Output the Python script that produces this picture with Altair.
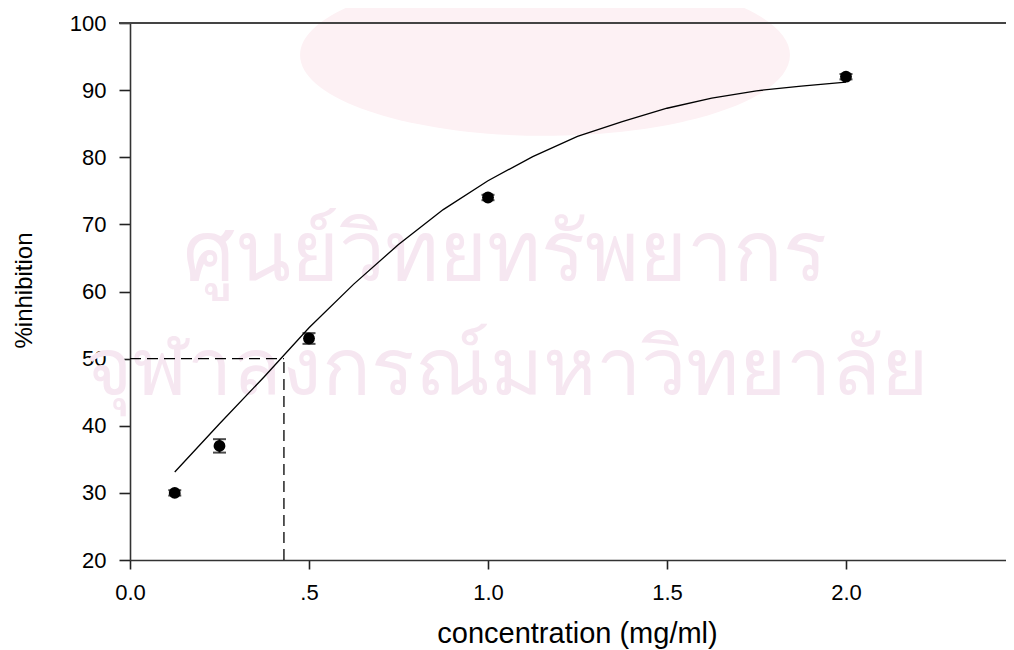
import altair as alt
import pandas as pd

# measured points (mean, error)
pts_x = [0.125, 0.25, 0.5, 1.0, 2.0]
pts_y = [30.0, 37.0, 53.0, 74.0, 92.0]
pts_err = [0.4, 1.0, 0.8, 0.4, 0.4]

# fitted curve
fit_x = [0.125, 0.25, 0.375, 0.5, 0.625, 0.75, 0.875, 1.0, 1.125, 1.25,
         1.375, 1.5, 1.625, 1.75, 1.875, 2.0]
fit_y = [33.1, 40.3, 47.3, 54.6, 61.1, 67.0, 72.2, 76.5, 80.1, 83.1,
         85.3, 87.3, 88.8, 89.9, 90.6, 91.2]

# IC50 guide
ic50_x = [0.43]
ic50_y = [50.0]

x_ticks = [0.0, 0.5, 1.0, 1.5, 2.0]
x_tick_labels = ["0.0", ".5", "1.0", "1.5", "2.0"]
y_ticks = [20, 30, 40, 50, 60, 70, 80, 90, 100]

x_min, x_max = 0.0, 2.447
y_min, y_max = 20, 100

wm_line1 = ["ศูนย์วิทยทรัพยากร"]
wm_line2 = ["จุฬาลงกรณ์มหาวิทยาลัย"]

pts = pd.DataFrame({"x": pts_x, "y": pts_y,
                    "lo": [y - e for y, e in zip(pts_y, pts_err)],
                    "hi": [y + e for y, e in zip(pts_y, pts_err)]})
fit = pd.DataFrame({"x": fit_x, "y": fit_y})
guide = pd.DataFrame({"x0": [x_min], "x1": ic50_x, "y0": [y_min], "y1": ic50_y})

label_expr = " : ".join(
    f"datum.value == {v} ? '{t}'" for v, t in zip(x_ticks, x_tick_labels)
) + " : ''"

FONT = "Liberation Sans"
xs = alt.Scale(domain=[x_min, x_max], nice=False, zero=False)
ys = alt.Scale(domain=[y_min, y_max], nice=False, zero=False)

x_axis = alt.Axis(values=x_ticks, labelExpr=label_expr, title="concentration (mg/ml)",
                  grid=False, tickSize=9, labelPadding=13, labelFontSize=22,
                  labelFlush=False, labelOverlap=False,
                  titleFontSize=29, titleFontWeight="normal", titleX=447, titleY=82,
                  titleBaseline="alphabetic", titleAnchor="middle")
y_axis = alt.Axis(values=y_ticks, title="%inhibition", grid=False, tickSize=11,
                  labelFlush=False, labelOverlap=False,
                  labelPadding=13, labelFontSize=22, titleFontSize=24,
                  titleFontWeight="normal", titleX=-99, titleY=267,
                  titleBaseline="alphabetic", titleAnchor="middle")

wm = pd.DataFrame({"a": [0]})
ELLIPSE = "M -1 0 A 1 0.33 0 1 1 1 0 A 1 0.33 0 1 1 -1 0 Z"
logo = alt.Chart(wm).mark_point(shape=ELLIPSE, filled=True, color="#fdf1f4",
                                opacity=1, strokeWidth=0).encode(
    x=alt.value(415), y=alt.value(32), size=alt.value(240000))
wm1 = alt.Chart(wm).mark_text(fontSize=82, color="#f6e7f1", align="center",
                              baseline="alphabetic", font="Noto Sans").encode(
    x=alt.value(375), y=alt.value(257), text=alt.value(wm_line1[0]))
wm2 = alt.Chart(wm).mark_text(fontSize=81, color="#f6e7f1", align="center",
                              baseline="alphabetic", font="Noto Sans").encode(
    x=alt.value(376), y=alt.value(372), text=alt.value(wm_line2[0]))

base_pts = alt.Chart(pts)
curve = alt.Chart(fit).mark_line(color="black", strokeWidth=1.3).encode(
    x=alt.X("x:Q", scale=xs, axis=x_axis),
    y=alt.Y("y:Q", scale=ys, axis=y_axis))
hguide = alt.Chart(guide).mark_rule(color="black", strokeWidth=1.3, strokeDash=[11, 6]).encode(
    x=alt.X("x0:Q", scale=xs), x2="x1:Q", y=alt.Y("y1:Q", scale=ys))
vguide = alt.Chart(guide).mark_rule(color="black", strokeWidth=1.3, strokeDash=[11, 6]).encode(
    x=alt.X("x1:Q", scale=xs), y=alt.Y("y0:Q", scale=ys), y2="y1:Q")
err = base_pts.mark_rule(color="black", strokeWidth=2).encode(
    x=alt.X("x:Q", scale=xs), y=alt.Y("lo:Q", scale=ys), y2="hi:Q")
cap_lo = base_pts.mark_tick(color="black", orient="horizontal", size=13, thickness=2).encode(
    x=alt.X("x:Q", scale=xs), y=alt.Y("lo:Q", scale=ys))
cap_hi = base_pts.mark_tick(color="black", orient="horizontal", size=13, thickness=2).encode(
    x=alt.X("x:Q", scale=xs), y=alt.Y("hi:Q", scale=ys))
dots = base_pts.mark_circle(color="black", opacity=1, size=140).encode(
    x=alt.X("x:Q", scale=xs), y=alt.Y("y:Q", scale=ys))
top_line = alt.Chart(wm).mark_rule(color="#444444", strokeWidth=2).encode(
    y=alt.datum(y_max, scale=ys), x=alt.value(-11), x2=alt.value(900))

chart = alt.layer(logo, wm1, wm2, curve, hguide, vguide, err, cap_lo, cap_hi, dots, top_line).properties(
    width=876, height=537,
    autosize=alt.AutoSizeParams(type="none"),
    padding={"left": 122, "top": 15, "right": 0, "bottom": 90},
).configure_view(stroke=None).configure_axis(
    labelFont=FONT, titleFont=FONT, labelColor="black", titleColor="black",
    domainColor="#333333", domainWidth=1.6, tickColor="#222222", tickWidth=1.6,
)

chart.save("out.html", embed_options={"renderer": "svg", "actions": False})
